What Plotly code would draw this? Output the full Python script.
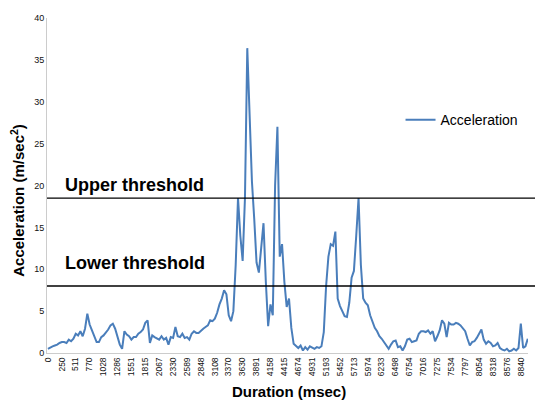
import plotly.graph_objects as go

# duration tick labels (msec), one every 6 samples
duration_labels = ["0", "250", "511", "770", "1028", "1286", "1551", "1815", "2067", "2330",
                   "2589", "2848", "3108", "3370", "3630", "3891", "4158", "4415", "4674", "4931",
                   "5193", "5452", "5713", "5974", "6233", "6498", "6754", "7016", "7275", "7534",
                   "7797", "8054", "8318", "8576", "8840"]
samples_per_label = 6

# acceleration (m/sec^2)
acceleration = [
    0.5, 0.7, 0.8, 0.9, 1.0, 1.2, 1.3, 1.3, 1.2, 1.6,
    1.4, 1.7, 2.3, 2.1, 2.6, 2.0, 2.9, 4.7, 3.4, 2.7,
    1.9, 1.3, 1.3, 1.9, 2.1, 2.4, 2.8, 3.3, 3.5, 2.9,
    1.8, 1.0, 0.5, 2.6, 2.2, 2.0, 1.6, 1.9, 1.9, 2.3,
    2.5, 2.8, 3.6, 3.9, 1.2, 2.1, 1.9, 1.7, 1.6, 2.0,
    1.6, 1.8, 1.0, 1.9, 1.8, 3.1, 2.0, 1.9, 2.3, 1.8,
    1.9, 1.6, 2.3, 2.6, 2.4, 2.4, 2.7, 2.9, 3.1, 3.3,
    3.9, 3.8, 4.1, 4.8, 5.8, 6.5, 7.5, 7.0, 4.5, 3.8,
    5.0, 10.5, 18.5, 14.0, 11.0, 18.5, 36.4, 28.8, 20.5, 16.0,
    10.8, 9.6, 12.5, 15.5, 8.5, 3.2, 5.8, 4.5, 20.0, 27.0,
    11.5, 13.0, 8.5, 5.5, 6.5, 3.0, 1.1, 0.9, 0.6, 0.9,
    0.3, 0.7, 0.4, 0.8, 0.6, 0.5, 0.7, 0.6, 0.8, 2.5,
    8.0, 11.5, 13.0, 12.8, 14.5, 6.5, 5.6, 5.0, 4.4, 4.3,
    6.0, 9.0, 9.8, 14.0, 18.5, 10.5, 6.5, 6.0, 5.7, 4.5,
    3.6, 3.0, 2.6, 2.0, 1.7, 1.3, 0.9, 0.5, 1.0, 1.4,
    1.5, 0.7, 0.8, 0.3, 0.8, 1.6, 1.7, 1.3, 1.4, 1.5,
    2.3, 2.6, 2.6, 2.5, 2.7, 2.3, 2.6, 1.4, 2.0, 2.7,
    3.9, 3.5, 1.9, 3.6, 3.4, 3.4, 3.6, 3.5, 3.3, 3.0,
    2.6, 1.7, 0.9, 1.3, 1.4, 1.8, 2.4, 2.8, 1.6, 1.1,
    1.4, 1.2, 0.8, 0.9, 1.2, 0.6, 0.4, 0.3, 0.5, 0.2,
    0.3, 0.5, 0.3, 0.6, 3.5, 0.6, 0.8, 1.7,
]

upper_threshold = 18.5
lower_threshold = 8.0

font = "Liberation Sans, Arial, sans-serif"

fig = go.Figure()
fig.add_trace(go.Scatter(
    y=acceleration, mode="lines", name="Acceleration",
    line=dict(color="#4A7EBB", width=2),
))

for level in (upper_threshold, lower_threshold):
    fig.add_shape(type="line", xref="paper", yref="y", x0=0, x1=1.016,
                  y0=level, y1=level, line=dict(color="black", width=1.3))

fig.add_annotation(text="<b>Upper threshold</b>", xref="paper", yref="y",
                   x=0.033, y=upper_threshold + 1.6, xanchor="left", yanchor="middle",
                   showarrow=False, font=dict(size=18, color="black", family=font))
fig.add_annotation(text="<b>Lower threshold</b>", xref="paper", yref="y",
                   x=0.033, y=lower_threshold + 2.8, xanchor="left", yanchor="middle",
                   showarrow=False, font=dict(size=18, color="black", family=font))
fig.add_annotation(text="<b>Acceleration (m/sec<sup>2</sup>)</b>", xref="paper", yref="paper",
                   x=-0.062, y=0.455, textangle=-90, xanchor="center", yanchor="middle",
                   showarrow=False, font=dict(size=15, color="black", family=font))
fig.add_annotation(text="<b>Duration (msec)</b>", xref="paper", yref="paper",
                   x=0.503, y=-0.115, xanchor="center", yanchor="middle",
                   showarrow=False, font=dict(size=15, color="black", family=font))

fig.update_layout(
    width=535, height=402,
    margin=dict(l=47, r=7, t=18, b=49),
    paper_bgcolor="white", plot_bgcolor="white",
    font=dict(family=font, color="#222"),
    showlegend=True,
    legend=dict(x=0.735, y=0.695, xanchor="left", yanchor="middle",
                bgcolor="rgba(0,0,0,0)", font=dict(size=14, color="black")),
    xaxis=dict(
        range=[-0.4, 207.1],
        tickvals=list(range(0, samples_per_label * len(duration_labels), samples_per_label)),
        ticktext=duration_labels, tickangle=-90, tickfont=dict(size=8.5, color="#111"),
        showgrid=False, zeroline=False, showline=True, linecolor="#cccccc", ticks="",
    ),
    yaxis=dict(
        range=[0, 40], dtick=5, tickfont=dict(size=9, color="#111"),
        showgrid=False, zeroline=False, showline=True, linecolor="#cccccc", ticks="",
    ),
)

fig.write_html("out.html", config={"displayModeBar": False},
               post_script="document.body.style.margin='0';")
